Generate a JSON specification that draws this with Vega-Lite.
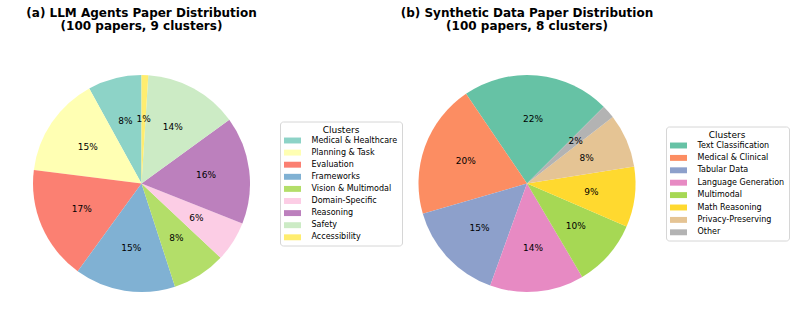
{
  "$schema": "https://vega.github.io/schema/vega-lite/v6.json",
  "padding": {"left": 0, "top": 6.5, "right": 0, "bottom": 0},
  "bounds": "flush",
  "spacing": 127,
  "config": {"view": {"stroke": null}, "font": "DejaVu Sans"},
  "resolve": {"scale": {"color": "independent", "theta": "independent"}, "legend": {"color": "independent"}},
  "hconcat": [
    {
      "width": 283,
      "height": 240,
      "title": {"text": ["(a) LLM Agents Paper Distribution", "(100 papers, 9 clusters)"], "font": "DejaVu Sans", "fontSize": 12, "fontWeight": "bold", "color": "black", "anchor": "middle", "frame": "group", "lineHeight": 13, "offset": 30.5},
      "data": {"values": [
        {"cluster": "Medical & Healthcare", "value": 8, "idx": 0, "label": "8%"},
        {"cluster": "Planning & Task", "value": 15, "idx": 1, "label": "15%"},
        {"cluster": "Evaluation", "value": 17, "idx": 2, "label": "17%"},
        {"cluster": "Frameworks", "value": 15, "idx": 3, "label": "15%"},
        {"cluster": "Vision & Multimodal", "value": 8, "idx": 4, "label": "8%"},
        {"cluster": "Domain-Specific", "value": 6, "idx": 5, "label": "6%"},
        {"cluster": "Reasoning", "value": 16, "idx": 6, "label": "16%"},
        {"cluster": "Safety", "value": 14, "idx": 7, "label": "14%"},
        {"cluster": "Accessibility", "value": 1, "idx": 8, "label": "1%"}
      ]},
      "encoding": {
        "theta": {"field": "value", "type": "quantitative", "stack": true, "scale": {"range": [0, -6.283185307179586]}},
        "order": {"field": "idx", "type": "quantitative"}
      },
      "layer": [
        {
          "mark": {"type": "arc", "radius": 108.5, "strokeWidth": 0},
          "encoding": {
            "color": {
              "field": "cluster", "type": "nominal",
              "scale": {
                "domain": ["Medical & Healthcare", "Planning & Task", "Evaluation", "Frameworks", "Vision & Multimodal", "Domain-Specific", "Reasoning", "Safety", "Accessibility"],
                "range": ["#8dd3c7", "#ffffb3", "#fb8072", "#80b1d3", "#b3de69", "#fccde5", "#bc80bd", "#ccebc5", "#ffed6f"]
              },
              "legend": {
                "title": "Clusters", "orient": "none", "legendX": 280, "legendY": 58,
                "titleAnchor": "middle", "titleFont": "DejaVu Sans", "titleFontSize": 9, "titleFontWeight": "normal", "titleColor": "black", "titlePadding": 1.5,
                "labelFont": "DejaVu Sans", "labelFontSize": 8, "labelColor": "black", "labelLimit": 0, "labelOffset": 14.5,
                "symbolType": "M-2,-0.7L2,-0.7L2,0.7L-2,0.7Z", "symbolSize": 72, "symbolStrokeWidth": 0, "symbolOffset": 4, "symbolOpacity": 1,
                "rowPadding": 3.1, "padding": 4, "strokeColor": "#d6d6d6", "fillColor": "white", "cornerRadius": 3
              }
            }
          }
        },
        {
          "mark": {"type": "text", "radius": 65, "font": "DejaVu Sans", "fontSize": 9, "color": "black", "align": "center", "baseline": "middle"},
          "encoding": {"text": {"field": "label", "type": "nominal"}}
        }
      ]
    },
    {
      "width": 234,
      "height": 240,
      "title": {"text": ["(b) Synthetic Data Paper Distribution", "(100 papers, 8 clusters)"], "font": "DejaVu Sans", "fontSize": 12, "fontWeight": "bold", "color": "black", "anchor": "middle", "frame": "group", "lineHeight": 13, "offset": 30.5},
      "data": {"values": [
        {"cluster": "Text Classification", "value": 22, "idx": 0, "label": "22%"},
        {"cluster": "Medical & Clinical", "value": 20, "idx": 1, "label": "20%"},
        {"cluster": "Tabular Data", "value": 15, "idx": 2, "label": "15%"},
        {"cluster": "Language Generation", "value": 14, "idx": 3, "label": "14%"},
        {"cluster": "Multimodal", "value": 10, "idx": 4, "label": "10%"},
        {"cluster": "Math Reasoning", "value": 9, "idx": 5, "label": "9%"},
        {"cluster": "Privacy-Preserving", "value": 8, "idx": 6, "label": "8%"},
        {"cluster": "Other", "value": 2, "idx": 7, "label": "2%"}
      ]},
      "encoding": {
        "theta": {"field": "value", "type": "quantitative", "stack": true, "scale": {"range": [0.7853981633974483, -5.497787143782138]}},
        "order": {"field": "idx", "type": "quantitative"}
      },
      "layer": [
        {
          "mark": {"type": "arc", "radius": 108.5, "strokeWidth": 0},
          "encoding": {
            "color": {
              "field": "cluster", "type": "nominal",
              "scale": {
                "domain": ["Text Classification", "Medical & Clinical", "Tabular Data", "Language Generation", "Multimodal", "Math Reasoning", "Privacy-Preserving", "Other"],
                "range": ["#66c2a5", "#fc8d62", "#8da0cb", "#e78ac3", "#a6d854", "#ffd92f", "#e5c494", "#b3b3b3"]
              },
              "legend": {
                "title": "Clusters", "orient": "none", "legendX": 256, "legendY": 63,
                "titleAnchor": "middle", "titleFont": "DejaVu Sans", "titleFontSize": 9, "titleFontWeight": "normal", "titleColor": "black", "titlePadding": 1.5,
                "labelFont": "DejaVu Sans", "labelFontSize": 8, "labelColor": "black", "labelLimit": 0, "labelOffset": 14.5,
                "symbolType": "M-2,-0.7L2,-0.7L2,0.7L-2,0.7Z", "symbolSize": 72, "symbolStrokeWidth": 0, "symbolOffset": 4, "symbolOpacity": 1,
                "rowPadding": 3.4, "padding": 4, "strokeColor": "#d6d6d6", "fillColor": "white", "cornerRadius": 3
              }
            }
          }
        },
        {
          "mark": {"type": "text", "radius": 65, "font": "DejaVu Sans", "fontSize": 9, "color": "black", "align": "center", "baseline": "middle"},
          "encoding": {"text": {"field": "label", "type": "nominal"}}
        }
      ]
    }
  ]
}
